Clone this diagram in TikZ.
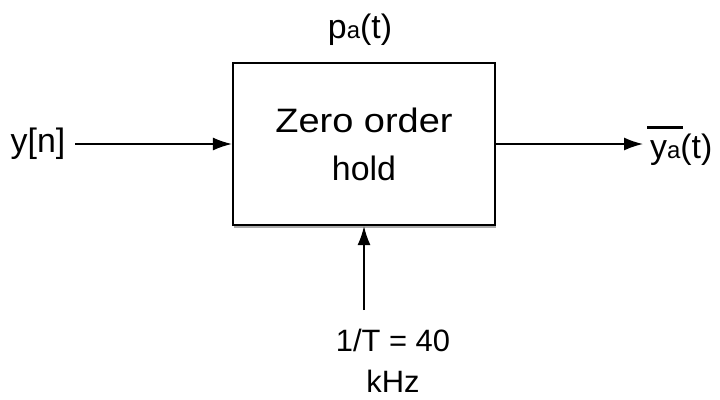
\documentclass[tikz,border=0pt]{standalone}
\usepackage{fontspec}
\setmainfont{Liberation Sans}
\usetikzlibrary{arrows.meta,shadows}

\tikzset{
    block/.style={draw, line width=2.2bp, fill=white, minimum width=262bp,
        minimum height=162bp, align=center,
        drop shadow={shadow xshift=0.5bp, shadow yshift=-3bp, fill=black!55, opacity=.6}},
    signal/.style={inner sep=0pt, font=\fontsize{34}{40}\selectfont},
    wire/.style={line width=1.6bp, -{Latex[length=19bp, width=13bp]}}
}
\newcommand{\sub}[1]{{\fontsize{24}{28}\selectfont #1}}
\newcommand{\overbar}{\makebox[0pt][l]{\hspace{-3bp}\rule[30bp]{36bp}{2.4bp}}}

\begin{document}
\begin{tikzpicture}[x=1bp, y=-1bp]
    \useasboundingbox[fill=white] (0, 0) rectangle (720, 399);
    \node[block, font=\fontsize{34}{48}\selectfont] (zoh) at (364, 144)
        {{\addfontfeature{FakeStretch=1.12}Zero order}\\hold};
    \node[signal] (yin) at (38, 144) {y[n]};
    \node[signal, anchor=west] (yout) at (650, 146) {\overbar y\sub{a}(t)};
    \node[signal] (pa) at (360, 30) {p\sub{a}(t)};
    \node[signal, align=center, font=\fontsize{31}{41}\selectfont] (rate) at (393, 361)
        {1/T = 40\\kHz};
    \coordinate (clk) at (364, 310);
    \draw[wire] (yin.east) ++(10, 0) -- (zoh.west);
    \draw[wire, shorten >=7bp] (zoh.east) -- (yout.west |- zoh.east);
    \draw[wire] (clk) -- (zoh.south);
\end{tikzpicture}
\end{document}
